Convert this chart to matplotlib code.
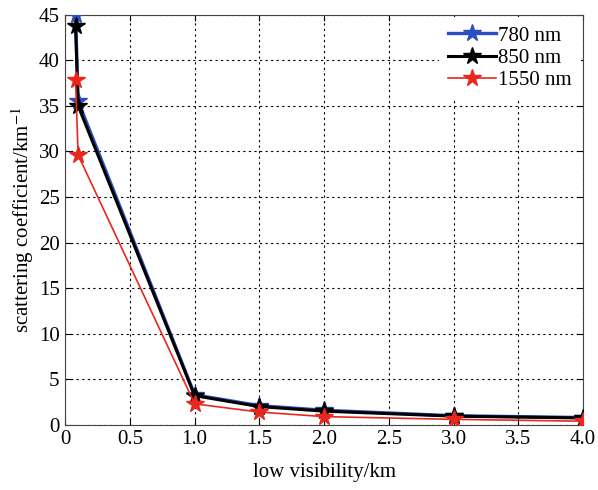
import matplotlib

matplotlib.use("Agg")
import matplotlib.pyplot as plt

plt.rcParams["font.family"] = ["Liberation Serif", "DejaVu Serif"]
plt.rcParams["mathtext.fontset"] = "stix"

visibility = [0.08, 0.1, 1.0, 1.5, 2.0, 3.0, 4.0]
coef_780 = [45.0, 35.5, 3.3, 2.1, 1.6, 1.0, 0.8]
coef_850 = [43.8, 35.0, 3.2, 2.0, 1.5, 0.95, 0.75]
coef_1550 = [37.8, 29.6, 2.3, 1.4, 0.9, 0.6, 0.4]

xticks = [0, 0.5, 1.0, 1.5, 2.0, 2.5, 3.0, 3.5, 4.0]
xticklabels = ["0", "0.5", "1.0", "1.5", "2.0", "2.5", "3.0", "3.5", "4.0"]
yticks = list(range(0, 50, 5))

fig = plt.figure(figsize=(5.98, 4.90), dpi=100)
ax = fig.add_axes([0.109, 0.133, 0.866, 0.837])

ax.plot(visibility, coef_780, color="#2b4fc0", lw=2.4, marker="*", ms=13,
        label="780 nm", zorder=3)
ax.plot(visibility, coef_850, color="black", lw=2.2, marker="*", ms=13,
        label="850 nm", zorder=4)
ax.plot(visibility, coef_1550, color="#e8281e", lw=1.2, marker="*", ms=13,
        label="1550 nm", zorder=5)

ax.set_xlim(0, 4.0)
ax.set_ylim(0, 45)
ax.set_xticks(xticks)
ax.set_xticklabels(xticklabels)
ax.set_yticks(yticks)
ax.tick_params(direction="in", labelsize=15, top=True, right=True, length=4,
               pad=4)
ax.grid(True, color="black", linestyle=(0, (2, 3)), linewidth=0.8)
for s in ax.spines.values():
    s.set_color("#444444")

ax.set_xlabel("low visibility/km", fontsize=15, labelpad=10)
ax.set_ylabel("scattering coefficient/km$^{-1}$", fontsize=15, labelpad=2)

leg = ax.legend(loc="upper right", fontsize=15, frameon=True, fancybox=False,
                edgecolor="white", facecolor="white", framealpha=1,
                borderpad=0.45, handlelength=2.3, handletextpad=0.1,
                labelspacing=0.12, borderaxespad=0.1)
leg.get_frame().set_linewidth(0)

fig.savefig("out.png", dpi=100)
